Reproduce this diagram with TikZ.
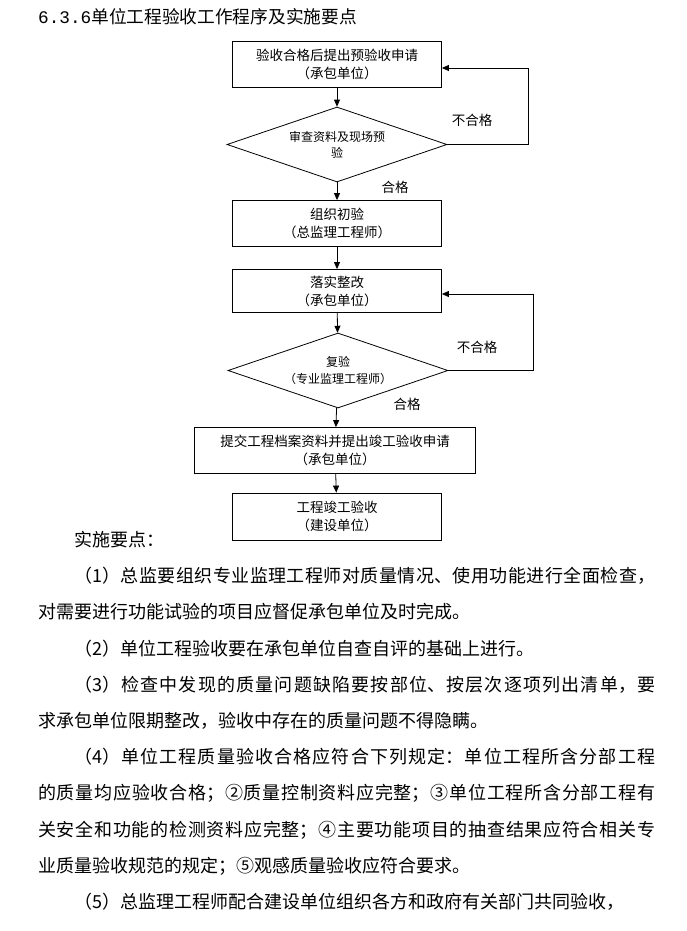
\documentclass[tikz,border=0pt]{standalone}
\usepackage{fontspec}
\setmainfont{Noto Sans CJK SC}
\newfontfamily\monofam{Liberation Mono}
\usetikzlibrary{shapes.geometric,arrows.meta}
\XeTeXlinebreaklocale "zh"
\XeTeXlinebreakskip = 0pt plus 3pt
\tikzset{
    box/.style={draw,line width=0.8pt,minimum width=209pt,minimum height=46pt,align=center,
        font=\fontsize{13.5}{18}\selectfont,inner sep=2pt},
    check/.style={draw,diamond,line width=0.8pt,minimum width=220pt,minimum height=75pt,
        aspect=2.9,inner sep=0pt,align=center,font=\fontsize{12}{16}\selectfont},
    arr/.style={line width=0.8pt,-{Triangle[length=7pt,width=6pt]}},
    lab/.style={font=\fontsize{13.5}{18}\selectfont,inner sep=0pt},
    notes/.style={text width=617pt,align=justify,inner sep=0pt,
        font=\fontsize{18}{36.2}\selectfont}
}
\begin{document}
\begin{tikzpicture}[x=1pt,y=-1pt]
        \useasboundingbox (0,0) rectangle (687,931);
        \node[anchor=west,inner sep=0pt,font=\fontsize{17.7}{20}\selectfont] (title) at (38,17)
            {{\monofam 6.3.6}单位工程验收工作程序及实施要点};
        % flow chart
        \node[box] (b1) at (337,64) {验收合格后提出预验收申请\\（承包单位）};
        \node[check] (d1) at (337,144.5) {审查资料及现场预\\验};
        \node[box] (b2) at (337,223.5) {组织初验\\（总监理工程师）};
        \node[box,minimum height=43pt] (b3) at (337,291) {落实整改\\（承包单位）};
        \node[check,font=\fontsize{12}{17}\selectfont] (d2) at (338,370.5) {复验\\（专业监理工程师）};
        \node[box,minimum width=281pt] (b4) at (335,450.5) {提交工程档案资料并提出竣工验收申请\\（承包单位）};
        \node[box,minimum height=47pt] (b5) at (337,516.5) {工程竣工验收\\（建设单位）};
        \coordinate (r1) at (528,0);
        \coordinate (r2) at (533,0);
        \draw[arr] (b1) -- (d1);
        \draw[arr] (d1) -- (b2);
        \draw[arr] (b2) -- (b3);
        \draw[arr] (b3) -- (d2);
        \draw[arr] (d2) -- (b4);
        \draw[arr] (b4) -- (b5);
        \draw[arr] (d1.east) -- (d1.east -| r1) |- ([yshift=-4pt]b1.east);
        \draw[arr] (d2.east) -- (d2.east -| r2) |- ([yshift=-3pt]b3.east);
        \node[lab] (n1) at (472,120) {不合格};
        \node[lab] (y1) at (395,187) {合格};
        \node[lab] (n2) at (477,347) {不合格};
        \node[lab] (y2) at (407,404) {合格};
        % notes below the chart
        \node[notes,anchor=north west] (notes) at (38,531) {%
            \hspace*{2em}实施要点：\par
            \hspace*{2em}（1）总监要组织专业监理工程师对质量情况、使用功能进行全面检查，\linebreak
            对需要进行功能试验的项目应督促承包单位及时完成。\par
            \hspace*{2em}（2）单位工程验收要在承包单位自查自评的基础上进行。\par
            \hspace*{2em}（3）检查中发现的质量问题缺陷要按部位、按层次逐项列出清单，要\linebreak
            求承包单位限期整改，验收中存在的质量问题不得隐瞒。\par
            \hspace*{2em}（4）单位工程质量验收合格应符合下列规定：单位工程所含分部工程\linebreak
            的质量均应验收合格；②质量控制资料应完整；③单位工程所含分部工程有\linebreak
            关安全和功能的检测资料应完整；④主要功能项目的抽查结果应符合相关专\linebreak
            业质量验收规范的规定；⑤观感质量验收应符合要求。\par
            \hspace*{2em}（5）总监理工程师配合建设单位组织各方和政府有关部门共同验收，\par};
    \end{tikzpicture}
\end{document}
